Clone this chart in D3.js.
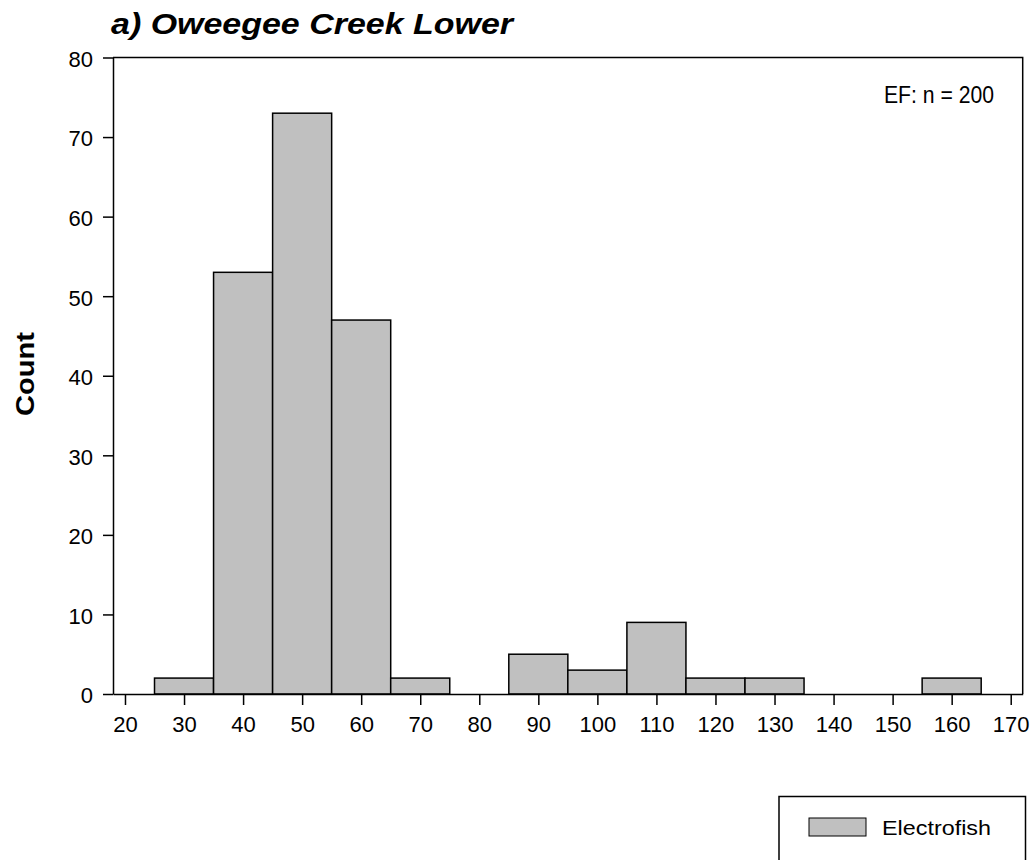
<!DOCTYPE html>
<html><head><meta charset="utf-8">
<script src="https://cdn.jsdelivr.net/npm/d3@7"></script>
<style>body{margin:0;background:#fff}svg{display:block}text{font-family:"Liberation Sans",Arial,sans-serif;fill:#000}</style>
</head><body>
<script>
const binCenters = [30,40,50,60,70,80,90,100,110,120,130,140,150,160];
const counts =     [2, 53,73,47, 2, 0, 5,  3,  9,  2,  2,  0,  0,  2];
const xTicks = [20,30,40,50,60,70,80,90,100,110,120,130,140,150,160,170];
const yTicks = [0,10,20,30,40,50,60,70,80];
const binWidth = 10;
const title = "a) Oweegee Creek Lower";
const yLabel = "Count";
const annotation = "EF: n = 200";
const legendLabel = "Electrofish";

const W = 1034, H = 860;
const svg = d3.select("body").append("svg").attr("width", W).attr("height", H);
const L = 113, R = 1022.7, T = 57.5, B = 694;
const x = d3.scaleLinear().domain([17.97, 172.03]).range([L, R]);
const y = d3.scaleLinear().domain([0, 80]).range([B, T]);

// bars
svg.append("g").selectAll("rect").data(binCenters.map((c,i)=>({c, v:counts[i]})).filter(d=>d.v>0))
  .join("rect")
  .attr("x", d=>x(d.c-binWidth/2)).attr("width", d=>x(d.c+binWidth/2)-x(d.c-binWidth/2))
  .attr("y", d=>y(d.v)).attr("height", d=>y(0)-y(d.v))
  .attr("fill", "#c0c0c0").attr("stroke", "#000").attr("stroke-width", 1.5);

// frame top/right
svg.append("path").attr("d", `M${L},${T}H${R}V${B}`).attr("fill","none").attr("stroke","#000").attr("stroke-width",1.5);

// axes
const yAxis = d3.axisLeft(y).tickValues(yTicks).tickSize(10).tickPadding(10).tickSizeOuter(0);
const gy = svg.append("g").attr("transform", `translate(${L},0)`).call(yAxis);
const xAxis = d3.axisBottom(x).tickValues(xTicks).tickSize(11).tickPadding(8).tickSizeOuter(0);
const gx = svg.append("g").attr("transform", `translate(0,${B})`).call(xAxis);
[gx, gy].forEach(g=>{
  g.select(".domain").attr("stroke","#000").attr("stroke-width",1.5);
  g.selectAll(".tick line").attr("stroke","#000").attr("stroke-width",1.5);
  g.selectAll(".tick text").attr("font-size", 22).attr("font-family", '"Liberation Sans",Arial,sans-serif').attr("fill","#000");
});
gx.selectAll(".tick text").attr("y", 37.5).attr("dy", 0);
gy.selectAll(".tick text").attr("dy", "0.4em");

// title
svg.append("text").attr("x", 111).attr("y", 33.5).attr("font-size", 29).attr("font-weight","bold").attr("font-style","italic")
  .attr("textLength", 402).attr("lengthAdjust","spacingAndGlyphs").text(title);
// y label
svg.append("text").attr("transform", `translate(34,374) rotate(-90)`).attr("text-anchor","middle")
  .attr("font-size", 26).attr("font-weight","bold")
  .attr("textLength", 84).attr("lengthAdjust","spacingAndGlyphs").text(yLabel);
// annotation
svg.append("text").attr("x", 884).attr("y", 102.5).attr("font-size", 24)
  .attr("textLength", 110).attr("lengthAdjust","spacingAndGlyphs").text(annotation);

// legend
svg.append("rect").attr("x", 779).attr("y", 796.5).attr("width", 246.5).attr("height", 80)
  .attr("fill","#fff").attr("stroke","#000").attr("stroke-width",1.5);
svg.append("rect").attr("x", 809).attr("y", 818).attr("width", 57).attr("height", 18)
  .attr("fill","#c0c0c0").attr("stroke","#000").attr("stroke-width",1);
svg.append("text").attr("x", 882).attr("y", 835).attr("font-size", 20)
  .attr("textLength", 109).attr("lengthAdjust","spacingAndGlyphs").text(legendLabel);
</script>
</body></html>
